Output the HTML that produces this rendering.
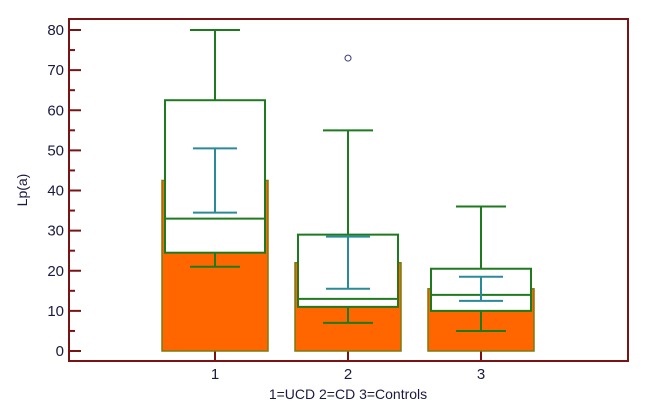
<!DOCTYPE html>
<html><head><meta charset="utf-8"><style>
body{margin:0;background:#fff;width:656px;height:411px;overflow:hidden}
text{font-family:"Liberation Sans",sans-serif;fill:#1a1a40}
</style></head><body>
<svg id="chart" width="656" height="411" xmlns="http://www.w3.org/2000/svg"></svg>
<script>
const categories=["1","2","3"];
const barValues=[42.5,22,15.5];
const q1=[24.5,11,10];
const q3=[62.5,29,20.5];
const medians=[33,13,14];
const whiskerLow=[21,7,5];
const whiskerHigh=[80,55,36];
const ciLow=[34.5,15.5,12.5];
const ciHigh=[50.5,28.5,18.5];
const outliers=[[],[73],[]];
const yTicks=[0,10,20,30,40,50,60,70,80];

const svg=document.getElementById('chart');
const NS='http://www.w3.org/2000/svg';
const y=v=>351-v*4.0125;
const x=i=>215+i*133;
function el(tag,attrs,parent){const e=document.createElementNS(NS,tag);for(const k in attrs)e.setAttribute(k,attrs[k]);(parent||svg).appendChild(e);return e;}
function line(x1,y1,x2,y2,c,w,name){const e=el('line',{x1,y1,x2,y2,stroke:c,'stroke-width':w});

return e;}

const frame=el('rect',{x:69,y:19,width:559,height:342,fill:'none',stroke:'#7a1414','stroke-width':2});



for(let v=0;v<=80;v+=5){
  const major=v%10===0;
  line(69,y(v),major?81:75,y(v),'#7a1414',2,'y-tick');
}
yTicks.forEach(v=>{const t=el('text',{x:64,y:y(v)+5,'text-anchor':'end','font-size':15});t.textContent=v;

});
const yl=el('text',{x:27,y:190,'text-anchor':'middle','font-size':14,transform:'rotate(-90 27 190)'});yl.textContent='Lp(a)';


const xl=el('text',{x:348,y:399,'text-anchor':'middle','font-size':14});xl.textContent='1=UCD 2=CD 3=Controls';



const G='#1e7a1e',T='#2a8a9a';
categories.forEach((c,i)=>{
  const cx=x(i);
  line(cx,351,cx,361,'#7a1414',2,'x-tick');
  const t=el('text',{x:cx,y:379,'text-anchor':'middle','font-size':15});t.textContent=c;
  
  
  const b=el('rect',{x:cx-53,y:y(barValues[i]),width:106,height:y(0)-y(barValues[i]),fill:'#ff6600',stroke:'#7a7a10','stroke-width':1.5});
  
  
  line(cx,y(whiskerHigh[i]),cx,y(q3[i]),G,2,'upper-whisker');
  line(cx-25,y(whiskerHigh[i]),cx+25,y(whiskerHigh[i]),G,2,'upper-whisker-cap');
  line(cx,y(whiskerLow[i]),cx,y(q1[i]),G,2,'lower-whisker');
  line(cx-25,y(whiskerLow[i]),cx+25,y(whiskerLow[i]),G,2,'lower-whisker-cap');
  const bx=el('rect',{x:cx-50,y:y(q3[i]),width:100,height:y(q1[i])-y(q3[i]),fill:'#fff',stroke:G,'stroke-width':2});
  
  
  line(cx-50,y(medians[i]),cx+50,y(medians[i]),G,2,'median-line');
  line(cx,y(ciLow[i]),cx,y(ciHigh[i]),T,2,'ci-line');
  line(cx-22,y(ciLow[i]),cx+22,y(ciLow[i]),T,2,'ci-low-cap');
  line(cx-22,y(ciHigh[i]),cx+22,y(ciHigh[i]),T,2,'ci-high-cap');
  outliers[i].forEach(v=>{const o=el('circle',{cx,cy:y(v),r:3,fill:'#fff',stroke:'#3a3a7a','stroke-width':1});
  
  });
});
</script>
</body></html>
